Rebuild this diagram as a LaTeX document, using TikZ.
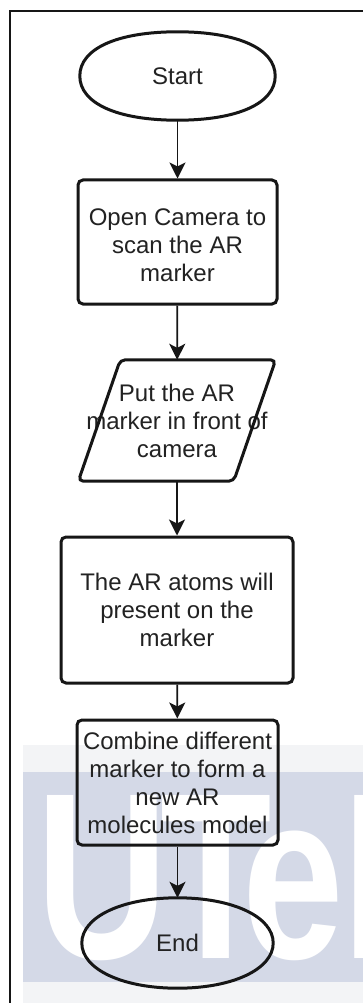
\documentclass[tikz,border=0pt]{standalone}
\usepackage{fontspec}
\setmainfont{Liberation Sans}
\usetikzlibrary{arrows.meta,calc}

\definecolor{ink}{HTML}{161616}
\definecolor{txt}{HTML}{222222}
\definecolor{band}{HTML}{D4D9E7}
\definecolor{haze}{HTML}{F3F4F6}

\newcommand\flowfont{\fontsize{24}{28}\selectfont}
\newcommand\markfont{\fontsize{237}{237}\selectfont\bfseries}

% outline of a terminal (start/end) node: rounded oval through the four side anchors
\newcommand\termoutline[4]{%
  \draw[shapeline] (#1.west)
    .. controls +(0,-#4*#3) and +(-#4*#2,0) .. (#1.north)
    .. controls +(#4*#2,0) and +(0,-#4*#3) .. (#1.east)
    .. controls +(0,#4*#3) and +(#4*#2,0) .. (#1.south)
    .. controls +(-#4*#2,0) and +(0,#4*#3) .. cycle;}

\tikzset{
  shapeline/.style={draw=ink, line width=3pt},
  termbox/.style={inner sep=0pt, font=\flowfont, text=txt},
  proc/.style={shapeline, rounded corners=5pt, align=center, inner sep=0pt,
               font=\flowfont, text=txt},
  iobox/.style={inner sep=0pt, align=center, font=\flowfont, text=txt},
  flow/.style={draw=ink, line width=1.8pt,
               -{Stealth[length=16pt,width=16pt,inset=4pt]}},
  frame/.style={draw=ink, line width=2pt},
  wm/.style={text=white, inner sep=0pt, font=\markfont, xscale=0.77},
}

\begin{document}
\begin{tikzpicture}[x=1pt,y=-1pt]
  \useasboundingbox (0,0) rectangle (363,1003);
  \clip (0,0) rectangle (363,1003);
  \fill[white] (0,0) rectangle (363,1003);

  % watermark band behind the lower part of the chart
  \fill[haze] (23,745) rectangle (363,1003);
  \fill[band] (23,772) rectangle (363,982);
  \begin{scope}
    \clip (23,772) rectangle (363,982);
    \node[wm, anchor=base] (wmU) at (102,958) {U};
    \node[wm, anchor=base] (wmT) at (216,958) {T};
    \node[wm, anchor=base] (wmE) at (293.5,958) {e};
    \node[wm, anchor=base west] (wmM) at (342,958) {M};
  \end{scope}

  % surrounding frame
  \draw[frame] (10,1010) -- (10,11) -- (370,11);

  % steps
  \node[termbox, minimum width=195pt, minimum height=88pt] (start) at (177.5,76) {Start};
  \termoutline{start}{97.5}{44}{0.62}

  \node[proc, minimum width=199pt, minimum height=124pt] (open) at (177.5,242)
    {\rule{0pt}{24pt}Open Camera to\\scan the AR\\marker};

  \node[iobox, minimum width=197pt, minimum height=121pt] (put) at (177,420.5)
    {Put the AR\\marker in front of\\camera};
  \draw[shapeline, rounded corners=5pt]
    ($(put.north west)+(42,0)$) -- (put.north east) --
    ($(put.south east)+(-42,0)$) -- (put.south west) -- cycle;

  \node[proc, minimum width=232pt, minimum height=146pt] (atoms) at (177,610)
    {The AR atoms will\\present on the\\marker};

  \node[proc, minimum width=201pt, minimum height=125pt] (combine) at (177.5,782.5)
    {Combine different\\marker to form a\\new AR\\molecules model};

  \node[termbox, minimum width=191pt, minimum height=90pt] (end) at (177.5,943) {End};
  \termoutline{end}{95.5}{45}{0.58}

  % connectors
  \draw[flow] (start) -- (open);
  \draw[flow] (open) -- (put);
  \draw[flow] (put) -- (atoms);
  \draw[flow] (atoms) -- (combine);
  \draw[flow] (combine) -- (end);
\end{tikzpicture}
\end{document}
